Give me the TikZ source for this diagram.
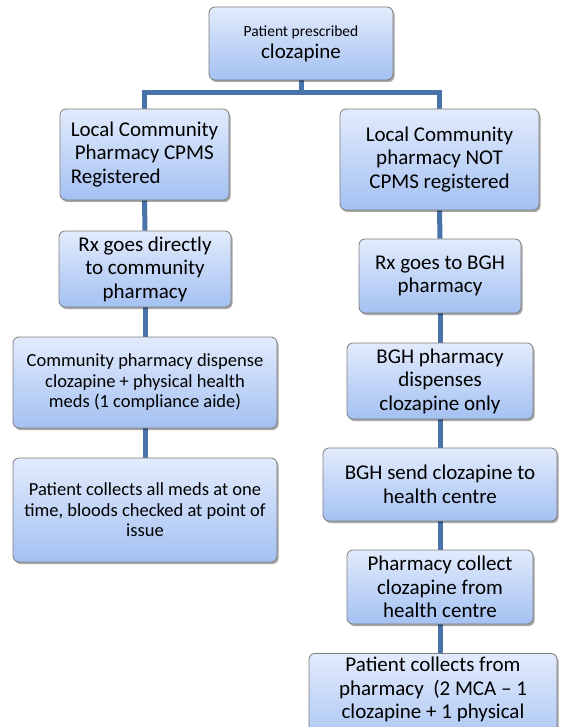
\documentclass[tikz,border=0pt]{standalone}
\usepackage{fontspec}
\setmainfont{Carlito}
\usetikzlibrary{shadows,backgrounds}
\definecolor{boxtop}{RGB}{226,235,252}
\definecolor{boxbot}{RGB}{164,193,242}
\definecolor{boxline}{RGB}{125,125,125}
\definecolor{conncol}{RGB}{72,116,170}
\tikzset{
 box/.style={rectangle, rounded corners=6pt, draw=boxline, line width=0.8pt,
   top color=boxtop, bottom color=boxbot, align=center, inner sep=2pt,
   drop shadow={shadow xshift=1.5pt, shadow yshift=-2pt, opacity=0.35, fill=black}},
 big/.style={font=\fontsize{21}{23.5}\selectfont},
 mid/.style={font=\fontsize{18.5}{20.5}\selectfont},
 conn/.style={draw=conncol, line width=5pt},
}
\begin{document}
\begin{tikzpicture}[x=1pt,y=-1pt]
\useasboundingbox (0,0) rectangle (560,727);
\clip (0,0) rectangle (560,727);

\node[box, minimum width=184pt, minimum height=73pt, font=\fontsize{21}{22}\selectfont] (top) at (301,43.5)
  {{\fontsize{15.5}{17}\selectfont Patient prescribed}\\clozapine};

\node[box, big, align=left, minimum width=169pt, minimum height=91pt] (L1) at (144.5,154.5)
  {Local Community\\\hspace*{4pt}Pharmacy CPMS\\Registered};
\node[box, big, minimum width=172pt, minimum height=76pt] (L2) at (145,269)
  {Rx goes directly\\to community\\pharmacy};
\node[box, mid, minimum width=264pt, minimum height=91pt] (L3) at (145,382.5)
  {Community pharmacy dispense\\clozapine + physical health\\meds (1 compliance aide)};
\node[box, mid, minimum width=264pt, minimum height=104pt] (L4) at (145,510)
  {Patient collects all meds at one\\time, bloods checked at point of\\issue};

\node[box, big, minimum width=199pt, minimum height=101pt] (R1) at (439.5,159.5)
  {Local Community\\pharmacy NOT\\CPMS registered};
\node[box, big, minimum width=162pt, minimum height=74pt] (R2) at (440,276)
  {Rx goes to BGH\\pharmacy};
\node[box, big, minimum width=186pt, minimum height=76pt] (R3) at (440,381)
  {BGH pharmacy\\dispenses\\clozapine only};
\node[box, big, minimum width=234pt, minimum height=73pt] (R4) at (440,484.5)
  {BGH send clozapine to\\health centre};
\node[box, big, minimum width=186pt, minimum height=74pt] (R5) at (440,587)
  {Pharmacy collect\\clozapine from\\health centre};
\node[box, big, anchor=north, minimum width=248pt, minimum height=100pt, inner sep=4pt] (R6) at (433,653)
  {Patient collects from\\pharmacy\ \ (2 MCA – 1\\clozapine + 1 physical\\\strut};

\coordinate (bar) at (301,93);
\begin{scope}[on background layer]
\fill[white] (0,0) rectangle (560,727);
\draw[conn] (top.south) -- (bar);
\draw[conn] (L1.north) |- (bar) -| (R1.north);
\draw[conn] (L1.south) -- (L2.north);
\draw[conn] (L2.south) -- (L3.north);
\draw[conn] (L3.south) -- (L4.north);
\draw[conn] (R1.south) -- (R2.north);
\draw[conn] (R2.south) -- (R3.north);
\draw[conn] (R3.south) -- (R4.north);
\draw[conn] (R4.south) -- (R5.north);
\draw[conn] (R5.south) -- (R5.south |- R6.north);
\end{scope}
\end{tikzpicture}
\end{document}
